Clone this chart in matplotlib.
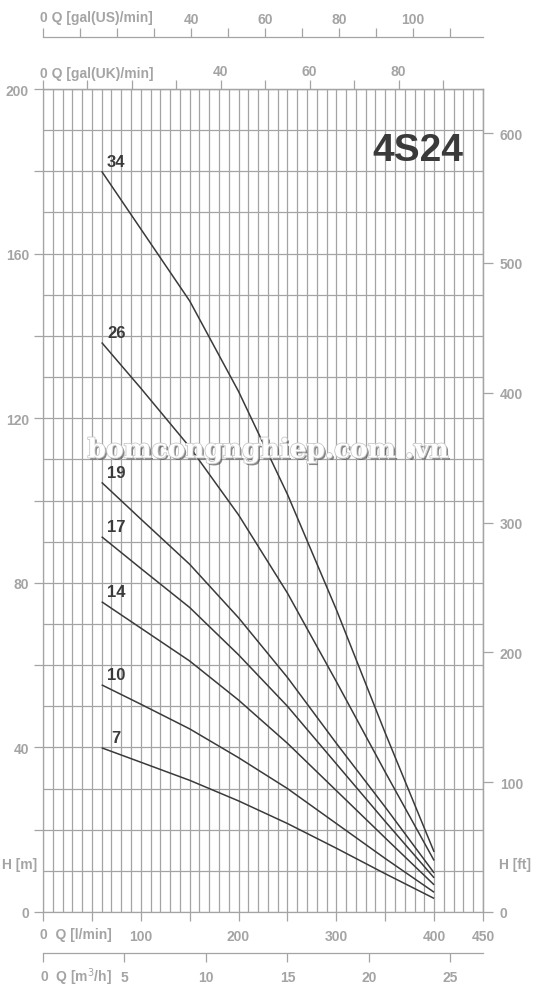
import numpy as np
import matplotlib.pyplot as plt
import matplotlib.patheffects as pe

plt.rcParams['font.family'] = ['Liberation Sans', 'DejaVu Sans']

# pump curves 4S24 : flow [l/min] vs head [m] for each stage count
flow = [60, 100, 150, 200, 250, 300, 350, 400]
head_34 = [180, 166, 148.5, 126.5, 101.5, 73.5, 43.5, 14.6]
head_26 = [138.4, 127.3, 113, 96.5, 77.5, 56, 34, 12.5]
head_19 = [104.4, 95.5, 84.5, 71.5, 57, 41, 25.5, 9.5]
head_17 = [91.2, 83.5, 74, 62.5, 50, 36, 22, 8.3]
head_14 = [75.4, 69, 61, 51.5, 41, 29.5, 18, 6.6]
head_10 = [55.2, 50.5, 44.5, 37.5, 30, 21.5, 13, 4.8]
head_7 = [39.9, 36.4, 32, 27, 21.5, 15.5, 9.3, 3.3]
stages = ['34', '26', '19', '17', '14', '10', '7']
heads = [head_34, head_26, head_19, head_17, head_14, head_10, head_7]

# axis ticks / labels
q_ticks = np.arange(0, 451, 50)
q_labels = ['', '', '100', '', '200', '', '300', '', '400', '450']
h_ticks = np.arange(0, 201, 20)
h_labels = ['0', '', '40', '', '80', '', '120', '', '160', '', '200']
ft_ticks = [0, 100, 200, 300, 400, 500, 600]
uk_ticks = np.arange(0, 91, 10)
uk_labels = ['', '', '', '', '40', '', '60', '', '80', '']
us_ticks = np.arange(0, 111, 10)
us_labels = ['', '', '', '', '40', '', '60', '', '80', '', '100', '']
m3_ticks = [0, 5, 10, 15, 20, 25]
m3_labels = ['', '5', '10', '15', '20', '25']

L_PER_UKGAL = 4.546
L_PER_USGAL = 3.785
FT_PER_M = 3.17   # as drawn on the sheet

GRID = '#a4a4a4'
TXT = '#a4a4a4'
DARK = '#3a3a3a'
FS = 10

W, H = 540, 987
fig = plt.figure(figsize=(W / 100, H / 100), dpi=100)
fig.patch.set_facecolor('white')
x0, x1, y0, y1 = 43, 483, 90, 913
ax = fig.add_axes([x0 / W, 1 - y1 / H, (x1 - x0) / W, (y1 - y0) / H])
ax.set_xlim(0, 450)
ax.set_ylim(0, 200)

for s in ax.spines.values():
    s.set_color(GRID)
    s.set_linewidth(0.9)

ax.set_xticks(q_ticks)
ax.set_xticklabels(q_labels)
ax.set_xticks(np.arange(0, 451, 10), minor=True)
ax.set_yticks(h_ticks)
ax.set_yticklabels(h_labels)
ax.set_yticks(np.arange(0, 201, 10), minor=True)
ax.grid(which='both', color=GRID, lw=0.9)
ax.set_axisbelow(True)
ax.tick_params(which='minor', length=0)
ax.tick_params(which='major', length=6.5, width=0.9, color=GRID,
               labelcolor=TXT, labelsize=FS)
ax.tick_params(axis='x', pad=5.5)
ax.tick_params(axis='y', pad=3.6)
for lab in ax.get_xticklabels() + ax.get_yticklabels():
    lab.set_fontweight('bold')

# curves
for name, h in zip(stages, heads):
    ax.plot(flow, h, color=DARK, lw=1.1, solid_capstyle='butt')
    ax.text(flow[0] + 15, h[0] + 0.6, name, ha='center', va='bottom',
            fontsize=12, fontweight='bold', color=DARK)

ax.text(0.852, 0.926, '4S24', transform=ax.transAxes, ha='center',
        va='center', fontsize=28, fontweight='bold', color=DARK)


def style_sec(sec, axis, pad):
    for s in sec.spines.values():
        s.set_color(GRID)
        s.set_linewidth(0.9)
    sec.tick_params(axis=axis, length=6.5, width=0.9, color=GRID,
                    labelcolor=TXT, labelsize=FS, pad=pad)
    labs = sec.get_xticklabels() if axis == 'x' else sec.get_yticklabels()
    for lab in labs:
        lab.set_fontweight('bold')


# right feet axis
ax_ft = ax.secondary_yaxis('right', functions=(lambda m: m * FT_PER_M,
                                              lambda f: f / FT_PER_M))
ax_ft.set_yticks(ft_ticks)
style_sec(ax_ft, 'y', 4.5)
ax_ft.tick_params(axis='y', length=7.5)

# top gallons axes
ax_uk = ax.secondary_xaxis('top', functions=(lambda q: q / L_PER_UKGAL,
                                            lambda g: g * L_PER_UKGAL))
ax_uk.set_xticks(uk_ticks)
ax_uk.set_xticklabels(uk_labels)
style_sec(ax_uk, 'x', 1.5)

ax_us = ax.secondary_xaxis(1 + 52 / (y1 - y0),
                           functions=(lambda q: q / L_PER_USGAL,
                                      lambda g: g * L_PER_USGAL))
ax_us.set_xticks(us_ticks)
ax_us.set_xticklabels(us_labels)
style_sec(ax_us, 'x', 1.5)

# bottom m3/h axis
ax_m3 = ax.secondary_xaxis(-41 / (y1 - y0),
                           functions=(lambda q: q * 0.06, lambda m: m / 0.06))
ax_m3.set_xticks(m3_ticks)
ax_m3.set_xticklabels(m3_labels)
style_sec(ax_m3, 'x', 6)


# axis names
def ftxt(x, y, s, ha='left'):
    fig.text(x / W, 1 - y / H, s, ha=ha, va='center', fontsize=FS,
             fontweight='bold', color=TXT)


ftxt(40, 18, '0 Q [gal(US)/min]')
ftxt(40, 74, '0 Q [gal(UK)/min]')
ftxt(40, 935, '0  Q [l/min]')
ftxt(40, 977, '0  Q [m$^3$/h]')
ftxt(20, 865, 'H [m]', ha='center')
ftxt(515, 865, 'H [ft]', ha='center')

# watermark
fig.text(268 / W, 1 - 451 / H, 'bomcongnghiep.com .vn', ha='center',
         va='center', fontsize=19, fontweight='bold', family='DejaVu Serif',
         color='white',
         path_effects=[pe.SimplePatchShadow(offset=(1.5, -1.5),
                                            shadow_rgbFace='#555555',
                                            alpha=0.7),
                       pe.Stroke(linewidth=1.2, foreground='#c8c8c8'),
                       pe.Normal()])

fig.savefig('out.png', dpi=100)
